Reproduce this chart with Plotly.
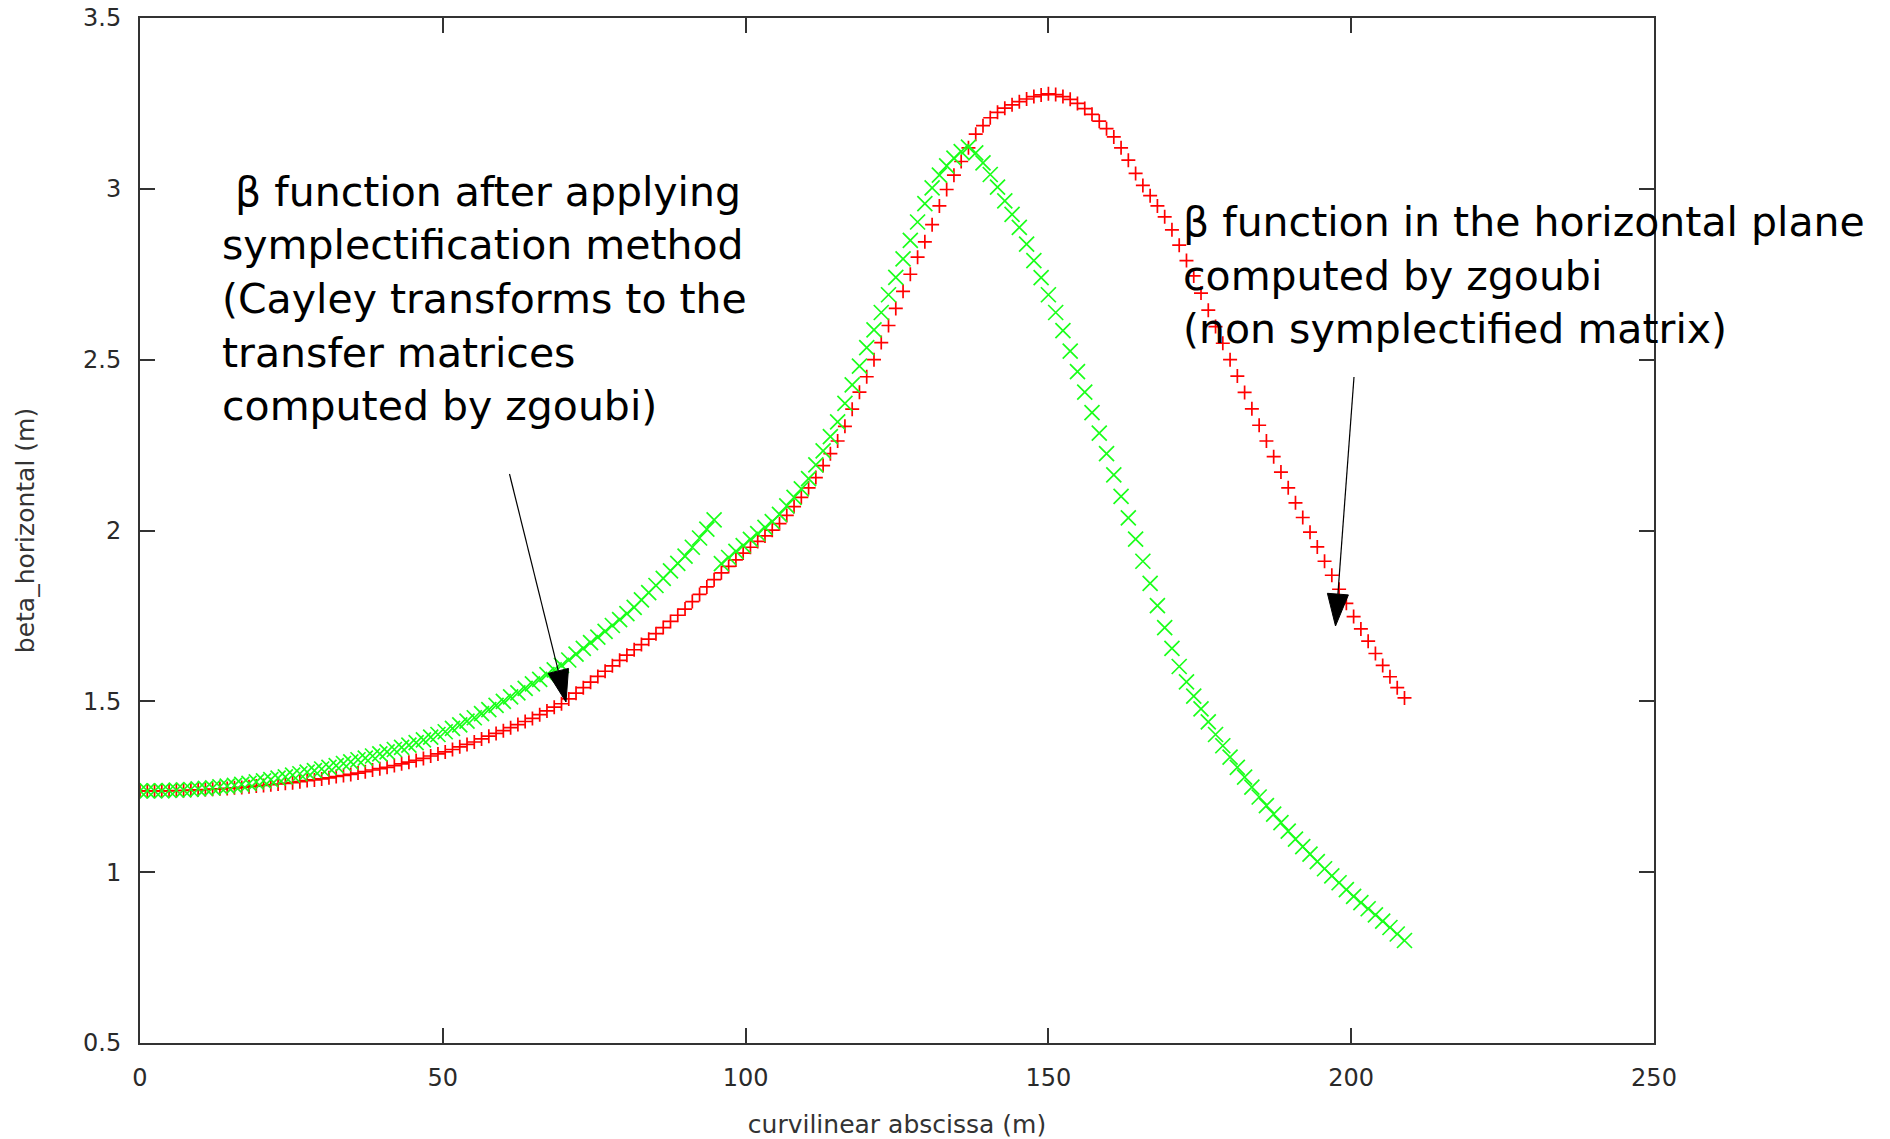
import plotly.graph_objects as go

# curvilinear abscissa (m)
s_m = [
    0.0, 1.2, 2.4, 3.6, 4.8, 6.0, 7.2, 8.4, 9.6, 10.8,
    12.0, 13.2, 14.4, 15.6, 16.8, 18.0, 19.2, 20.4, 21.6, 22.8,
    24.0, 25.2, 26.4, 27.6, 28.8, 30.0, 31.2, 32.4, 33.6, 34.8,
    36.0, 37.2, 38.4, 39.6, 40.8, 42.0, 43.2, 44.4, 45.6, 46.8,
    48.0, 49.2, 50.4, 51.6, 52.8, 54.0, 55.2, 56.4, 57.6, 58.8,
    60.0, 61.2, 62.4, 63.6, 64.8, 66.0, 67.2, 68.4, 69.6, 70.8,
    72.0, 73.2, 74.4, 75.6, 76.8, 78.0, 79.2, 80.4, 81.6, 82.8,
    84.0, 85.2, 86.4, 87.6, 88.8, 90.0, 91.2, 92.4, 93.6, 94.8,
    96.0, 97.2, 98.4, 99.6, 100.8, 102.0, 103.2, 104.4, 105.6, 106.8,
    108.0, 109.2, 110.4, 111.6, 112.8, 114.0, 115.2, 116.4, 117.6, 118.8,
    120.0, 121.2, 122.4, 123.6, 124.8, 126.0, 127.2, 128.4, 129.6, 130.8,
    132.0, 133.2, 134.4, 135.6, 136.8, 138.0, 139.2, 140.4, 141.6, 142.8,
    144.0, 145.2, 146.4, 147.6, 148.8, 150.0, 151.2, 152.4, 153.6, 154.8,
    156.0, 157.2, 158.4, 159.6, 160.8, 162.0, 163.2, 164.4, 165.6, 166.8,
    168.0, 169.2, 170.4, 171.6, 172.8, 174.0, 175.2, 176.4, 177.6, 178.8,
    180.0, 181.2, 182.4, 183.6, 184.8, 186.0, 187.2, 188.4, 189.6, 190.8,
    192.0, 193.2, 194.4, 195.6, 196.8, 198.0, 199.2, 200.4, 201.6, 202.8,
    204.0, 205.2, 206.4, 207.6, 208.8,
]

# beta_horizontal computed by zgoubi (non symplectified matrix) - red "+"
beta_zgoubi = [
    1.238, 1.238, 1.238, 1.238, 1.238, 1.239, 1.239, 1.240, 1.241, 1.242,
    1.243, 1.244, 1.245, 1.247, 1.248, 1.250, 1.252, 1.254, 1.256, 1.258,
    1.260, 1.262, 1.265, 1.268, 1.270, 1.273, 1.276, 1.280, 1.283, 1.286,
    1.290, 1.294, 1.299, 1.303, 1.307, 1.312, 1.317, 1.322, 1.327, 1.333,
    1.340, 1.346, 1.352, 1.359, 1.367, 1.374, 1.381, 1.390, 1.398, 1.406,
    1.414, 1.423, 1.432, 1.441, 1.450, 1.461, 1.472, 1.483, 1.493, 1.507,
    1.524, 1.540, 1.556, 1.573, 1.588, 1.604, 1.620, 1.635, 1.651, 1.666,
    1.682, 1.698, 1.716, 1.734, 1.752, 1.770, 1.792, 1.813, 1.835, 1.856,
    1.876, 1.895, 1.914, 1.934, 1.951, 1.968, 1.984, 2.001, 2.020, 2.044,
    2.070, 2.097, 2.125, 2.155, 2.190, 2.225, 2.262, 2.305, 2.355, 2.405,
    2.450, 2.500, 2.550, 2.600, 2.650, 2.700, 2.750, 2.800, 2.845, 2.895,
    2.950, 2.998, 3.040, 3.080, 3.120, 3.160, 3.185, 3.208, 3.224, 3.236,
    3.246, 3.255, 3.263, 3.270, 3.275, 3.278, 3.276, 3.270, 3.262, 3.250,
    3.235, 3.218, 3.198, 3.176, 3.152, 3.120, 3.084, 3.045, 3.010, 2.980,
    2.950, 2.918, 2.880, 2.835, 2.790, 2.745, 2.695, 2.645, 2.597, 2.548,
    2.500, 2.452, 2.404, 2.356, 2.308, 2.262, 2.216, 2.171, 2.125, 2.081,
    2.038, 1.995, 1.952, 1.910, 1.869, 1.828, 1.787, 1.748, 1.712, 1.676,
    1.640, 1.605, 1.572, 1.540, 1.510,
]

# beta_horizontal after symplectification (Cayley transforms) - green "x"
beta_sympl = [
    1.238, 1.238, 1.238, 1.238, 1.239, 1.240, 1.241, 1.242, 1.244, 1.245,
    1.247, 1.250, 1.252, 1.254, 1.257, 1.260, 1.264, 1.267, 1.271, 1.275,
    1.279, 1.284, 1.288, 1.293, 1.297, 1.302, 1.307, 1.312, 1.318, 1.323,
    1.329, 1.334, 1.340, 1.346, 1.352, 1.359, 1.365, 1.372, 1.379, 1.387,
    1.395, 1.403, 1.411, 1.421, 1.431, 1.442, 1.452, 1.464, 1.476, 1.488,
    1.500, 1.513, 1.525, 1.538, 1.551, 1.564, 1.578, 1.592, 1.605, 1.621,
    1.638, 1.655, 1.672, 1.688, 1.705, 1.722, 1.739, 1.757, 1.775, 1.797,
    1.818, 1.839, 1.860, 1.882, 1.904, 1.925, 1.951, 1.978, 2.004, 2.031,
    1.903, 1.921, 1.939, 1.956, 1.974, 1.991, 2.009, 2.026, 2.047, 2.072,
    2.097, 2.122, 2.152, 2.192, 2.233, 2.275, 2.318, 2.372, 2.426, 2.481,
    2.535, 2.587, 2.638, 2.690, 2.741, 2.795, 2.849, 2.903, 2.957, 3.003,
    3.040, 3.067, 3.090, 3.109, 3.122, 3.105, 3.076, 3.042, 3.005, 2.965,
    2.925, 2.887, 2.838, 2.790, 2.740, 2.690, 2.638, 2.585, 2.525, 2.465,
    2.405, 2.345, 2.285, 2.225, 2.163, 2.100, 2.037, 1.975, 1.910, 1.845,
    1.780, 1.716, 1.655, 1.602, 1.557, 1.515, 1.478, 1.440, 1.403, 1.370,
    1.337, 1.307, 1.278, 1.249, 1.220, 1.195, 1.170, 1.145, 1.120, 1.097,
    1.075, 1.053, 1.031, 1.010, 0.989, 0.969, 0.949, 0.929, 0.911, 0.893,
    0.875, 0.857, 0.838, 0.819, 0.800,
]

x_ticks = [0, 50, 100, 150, 200, 250]
y_ticks = [0.5, 1, 1.5, 2, 2.5, 3, 3.5]

note_sympl = ["\u00a0\u03b2 function after applying", "symplectification method",
              "(Cayley transforms to the", "transfer matrices", "computed by zgoubi)"]
note_zgoubi = ["\u03b2 function in the horizontal plane", "computed by zgoubi",
               "(non symplectified matrix)"]

# ---- layout geometry ----
W, H = 1890, 1139
M = dict(l=140, r=236, t=18, b=96, autoexpand=False)
X_RANGE = [0, 250]
Y_RANGE = [0.5, 3.5]
PW = W - M["l"] - M["r"]
PH = H - M["t"] - M["b"]


def px2d(px, py):
    x = X_RANGE[0] + (px - M["l"]) / PW * (X_RANGE[1] - X_RANGE[0])
    y = Y_RANGE[1] - (py - M["t"]) / PH * (Y_RANGE[1] - Y_RANGE[0])
    return x, y


def px2paper(px, py):
    return (px - M["l"]) / PW, 1 - (py - M["t"]) / PH


fig = go.Figure()
fig.add_trace(go.Scatter(
    x=s_m, y=beta_zgoubi, mode="markers", name="zgoubi",
    marker=dict(symbol="cross-thin", size=10, color="#ff0000",
                line=dict(color="#ff0000", width=1.7)),
    showlegend=False,
))
fig.add_trace(go.Scatter(
    x=s_m, y=beta_sympl, mode="markers", name="symplectified",
    marker=dict(symbol="x-thin", size=15, color="#1aff1a",
                line=dict(color="#1aff1a", width=1.7)),
    showlegend=False,
))

annotations = []
FONT_NOTE = dict(family="DejaVu Sans", size=41, color="black")
for i, line in enumerate(note_sympl):
    px, py = px2paper(220, 192 + i * 53.5)
    annotations.append(dict(text=line, x=px, y=py, xref="paper", yref="paper",
                            xanchor="left", yanchor="middle", showarrow=False,
                            font=FONT_NOTE))
for i, line in enumerate(note_zgoubi):
    px, py = px2paper(1181, 222 + i * 53.5)
    annotations.append(dict(text=line, x=px, y=py, xref="paper", yref="paper",
                            xanchor="left", yanchor="middle", showarrow=False,
                            font=FONT_NOTE))

shapes = []
# arrows: (tail, base-centre, tip, corner1, corner2) in pixels
arrows = [
    ((509.5, 474), (558.3, 670.9), (566, 702), (568.5, 668.4), (548.1, 673.4)),
    ((1354, 377), (1337.9, 594.1), (1335.5, 626), (1348.4, 594.9), (1327.4, 593.3)),
]
for tail, base, tip, c1, c2 in arrows:
    x0, y0 = px2d(*tail)
    x1, y1 = px2d(*base)
    shapes.append(dict(type="line", xref="x", yref="y", x0=x0, y0=y0, x1=x1, y1=y1,
                       line=dict(color="black", width=1.2)))
    pts = [px2d(*tip), px2d(*c1), px2d(*c2)]
    path = "M{},{} L{},{} L{},{} Z".format(pts[0][0], pts[0][1], pts[1][0], pts[1][1],
                                          pts[2][0], pts[2][1])
    shapes.append(dict(type="path", xref="x", yref="y", path=path,
                       fillcolor="black", line=dict(color="black", width=1)))

axis_common = dict(
    showline=True, linecolor="#333333", linewidth=2, mirror="ticks",
    ticks="inside", ticklen=15, tickwidth=1.5, tickcolor="#333333",
    showgrid=False, zeroline=False, automargin=False,
    tickfont=dict(family="DejaVu Sans", size=24, color="#2a2a2a"),
)

fig.update_layout(
    width=W, height=H, margin=M,
    paper_bgcolor="white", plot_bgcolor="white",
    xaxis=dict(range=X_RANGE, tickvals=x_ticks, ticklabelstandoff=12,
               title=dict(text="curvilinear abscissa (m)", standoff=28,
                          font=dict(family="DejaVu Sans", size=25, color="#333333")),
               **axis_common),
    yaxis=dict(range=Y_RANGE, tickvals=y_ticks, ticklabelstandoff=12,
               title=dict(text="beta_horizontal (m)", standoff=41,
                          font=dict(family="DejaVu Sans", size=25, color="#333333")),
               **axis_common),
    annotations=annotations,
    shapes=shapes,
)

fig.write_html("out.html")
